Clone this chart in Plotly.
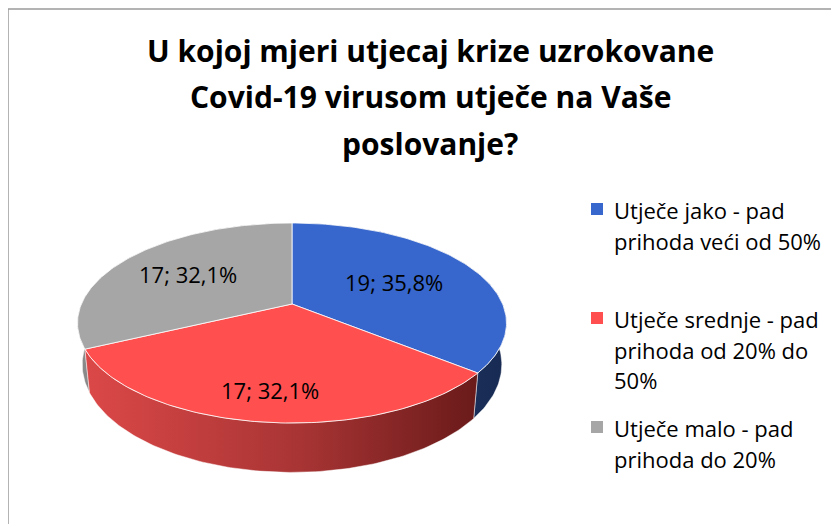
import numpy as np
import plotly.graph_objects as go

title_lines = ["U kojoj mjeri utjecaj krize uzrokovane",
               "Covid-19 virusom utječe na Vaše",
               "poslovanje?"]
legend_lines = [["Utječe jako - pad", "prihoda veći od 50%"],
                ["Utječe srednje - pad", "prihoda od 20% do", "50%"],
                ["Utječe malo - pad", "prihoda do 20%"]]
counts = [19, 17, 17]
percents = [35.8, 32.1, 32.1]

top_colors = ['#3767CC', '#FF4F4F', '#A6A6A6']
side_scales = [[[0, '#26437E'], [1, '#172A52']],
               [[0, '#DC4848'], [0.55, '#A83434'], [1, '#6A1A1A']],
               [[0, '#8A8A8A'], [1, '#7A7A7A']]]

FONT = 'Open Sans'

# pie geometry in pixel space (perspective tilted disc)
CX, CY = 292, 304
RX, RY, K = 210.6, 96.4, 0.19
DEPTH = 40
label_r = [0.56, 0.77, 0.62]

# the page body has an 8px margin, so shift the axis ranges to match screen pixels
OFF = 8


def project(theta, r=1.0, down=0.0):
    t = np.radians(theta)
    u, v = r * np.sin(t), r * np.cos(t)
    s = 1 / (1 + K * v)
    shrink = 1 - 0.022 * down / DEPTH
    x = CX + RX * u * s * shrink
    y = CY - RY * v * s + down * s
    return x, y


total = sum(counts)
bounds = np.concatenate([[0], np.cumsum(counts)]) / total * 360

fig = go.Figure()

# side walls: back slices first, front (red) last
for i in [2, 0, 1]:
    th = np.linspace(bounds[i], bounds[i + 1], 120)
    xt, yt = project(th)
    xb, yb = project(th[::-1], down=DEPTH)
    fig.add_trace(go.Scatter(
        x=np.concatenate([xt, xb, xt[:1]]),
        y=np.concatenate([yt, yb, yt[:1]]),
        mode='lines', fill='toself',
        fillgradient=dict(type='horizontal', colorscale=side_scales[i]),
        line=dict(color='rgba(255,255,255,0.6)', width=0.8),
        hoverinfo='skip', showlegend=False
    ))

# top faces
for i in range(3):
    th = np.linspace(bounds[i], bounds[i + 1], 120)
    xt, yt = project(th)
    fig.add_trace(go.Scatter(
        x=np.concatenate([[CX], xt, [CX]]),
        y=np.concatenate([[CY], yt, [CY]]),
        mode='lines', fill='toself', fillcolor=top_colors[i],
        line=dict(color='rgba(255,255,255,0.8)', width=1),
        hoverinfo='skip', showlegend=False
    ))

annotations = []
for i in range(3):
    mid = (bounds[i] + bounds[i + 1]) / 2
    lx, ly = project(mid, r=label_r[i])
    annotations.append(dict(
        x=lx, y=ly, text=f"{counts[i]}; {percents[i]:.1f}%".replace('.', ','),
        showarrow=False, font=dict(family=FONT, size=22, color='#000000')
    ))

for j, line in enumerate(title_lines):
    annotations.append(dict(
        x=430, y=50 + j * 46.5, text=f"<b>{line}</b>", showarrow=False,
        font=dict(family=FONT, size=30, color='#000000')
    ))

shapes = [dict(type='line', x0=8, x1=850, y0=9, y1=9,
               line=dict(color='#9A9A9A', width=1.5)),
          dict(type='line', x0=8, x1=8, y0=9, y1=540,
               line=dict(color='#9A9A9A', width=1.5))]

legend_top = [209, 318, 427]
for i, lines in enumerate(legend_lines):
    shapes.append(dict(type='rect', x0=591, x1=603,
                       y0=legend_top[i] - 6, y1=legend_top[i] + 6,
                       fillcolor=top_colors[i], line=dict(width=0)))
    for k, line in enumerate(lines):
        annotations.append(dict(
            x=612, y=legend_top[i] + 1 + k * 30.5, text=line, showarrow=False,
            xanchor='left', font=dict(family=FONT, size=22, color='#000000')
        ))

fig.update_layout(
    width=839, height=524,
    margin=dict(l=0, r=0, t=0, b=0),
    paper_bgcolor='white', plot_bgcolor='white',
    xaxis=dict(range=[OFF, 839 + OFF], visible=False, fixedrange=True),
    yaxis=dict(range=[524 + OFF, OFF], visible=False, fixedrange=True),
    annotations=annotations, shapes=shapes,
    showlegend=False
)

fig.write_html("out.html")
